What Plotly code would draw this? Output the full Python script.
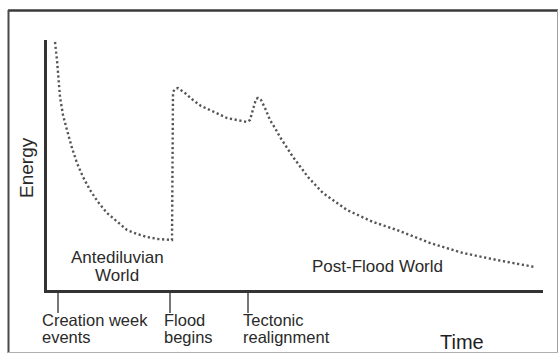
import plotly.graph_objects as go

# ---- data (time units along the x axis, energy units up the y axis) ----
time = [8, 10, 13, 16, 20, 25, 30, 36, 43, 51, 60, 70, 80, 90, 100, 111, 121, 125,
        126, 128, 131, 138, 146, 154, 163, 171, 180, 190, 200, 203, 206, 209, 211,
        214, 218, 223, 228, 233, 246, 261, 276, 300, 326, 350, 383, 416, 450, 488]
energy = [248, 230, 193, 175, 160, 142, 127, 113, 100, 88, 77, 68, 60, 56, 53, 51, 50, 50,
          198, 201, 202, 197, 190, 184, 180, 176, 172, 170, 168, 170, 182, 191, 192,
          190, 182, 170, 162, 153, 133, 113, 97, 80, 68, 60, 47, 37, 30, 23]

event_times = [11, 123, 201]
event_labels = [["Creation week", "events"], ["Flood", "begins"], ["Tectonic", "realignment"]]
event_label_offsets = [-18, -8, -7]  # label left edge relative to tick

region_labels = [["Antediluvian", "World"], ["Post-Flood World"]]

W, H = 559, 354
L, R, T, B = 47, 543, 40, 290  # plot area in pixels
X_RANGE = [0, R - L]
Y_RANGE = [0, B - T]


def px_x(px):
    return (px - L) / (R - L)


def px_y(py):
    return (B - py) / (B - T)


TXT = "#2a2a2a"
FONT = "Liberation Sans, Arial, sans-serif"

fig = go.Figure()
fig.add_trace(go.Scatter(
    x=time, y=energy, mode="lines",
    line=dict(color="#555555", width=2.4, dash="2.2px,2.6px"),
    hoverinfo="skip", showlegend=False,
))

annotations = []
for t, lines, off in zip(event_times, event_labels, event_label_offsets):
    for i, txt in enumerate(lines):
        annotations.append(dict(
            x=px_x(L + t + off), y=px_y(320 + 17 * i), xref="paper", yref="paper",
            text=txt, showarrow=False, xanchor="left", yanchor="middle",
            font=dict(family=FONT, size=16.5, color=TXT),
        ))

# region labels
annotations.append(dict(x=px_x(117), y=px_y(257), xref="paper", yref="paper",
                        text=region_labels[0][0], showarrow=False, xanchor="center",
                        yanchor="middle", font=dict(family=FONT, size=17, color=TXT)))
annotations.append(dict(x=px_x(117), y=px_y(275), xref="paper", yref="paper",
                        text=region_labels[0][1], showarrow=False, xanchor="center",
                        yanchor="middle", font=dict(family=FONT, size=17, color=TXT)))
annotations.append(dict(x=px_x(377), y=px_y(266), xref="paper", yref="paper",
                        text=region_labels[1][0], showarrow=False, xanchor="center",
                        yanchor="middle", font=dict(family=FONT, size=17, color=TXT)))

# axis titles
annotations.append(dict(x=px_x(26), y=px_y(168), xref="paper", yref="paper",
                        text="Energy", textangle=-90, showarrow=False,
                        xanchor="center", yanchor="middle",
                        font=dict(family=FONT, size=19, color=TXT)))
annotations.append(dict(x=px_x(462), y=px_y(342), xref="paper", yref="paper",
                        text="Time", showarrow=False, xanchor="center", yanchor="middle",
                        font=dict(family=FONT, size=20, color="#1e1e1e")))

shapes = [
    # outer frame
    dict(type="line", xref="paper", yref="paper", x0=px_x(8), x1=px_x(558),
         y0=px_y(10.5), y1=px_y(10.5), line=dict(color="#3a3a3a", width=2.5)),
    dict(type="line", xref="paper", yref="paper", x0=px_x(8.5), x1=px_x(8.5),
         y0=px_y(10), y1=px_y(353), line=dict(color="#4a4a4a", width=2)),
    dict(type="line", xref="paper", yref="paper", x0=px_x(557.5), x1=px_x(557.5),
         y0=px_y(10), y1=px_y(353), line=dict(color="#a0a0a0", width=1)),
    dict(type="line", xref="paper", yref="paper", x0=px_x(8), x1=px_x(558),
         y0=px_y(352.5), y1=px_y(352.5), line=dict(color="#b0b0b0", width=1)),
]

fig.update_layout(
    width=W, height=H,
    margin=dict(l=L, r=W - R, t=T, b=H - B, pad=0),
    paper_bgcolor="white", plot_bgcolor="white",
    annotations=annotations, shapes=shapes,
    xaxis=dict(range=X_RANGE, showgrid=False, zeroline=False,
               showline=True, linecolor="#333333", linewidth=3,
               tickmode="array", tickvals=event_times, ticktext=["", "", ""],
               ticks="outside", ticklen=20, tickwidth=1.5, tickcolor="#777777",
               showticklabels=False, fixedrange=True),
    yaxis=dict(range=Y_RANGE, showgrid=False, zeroline=False,
               showline=True, linecolor="#333333", linewidth=3,
               ticks="", showticklabels=False, fixedrange=True),
)

fig.write_html("out.html", config={"displayModeBar": False},
               post_script="document.body.style.margin='0';document.body.style.overflow='hidden';")
